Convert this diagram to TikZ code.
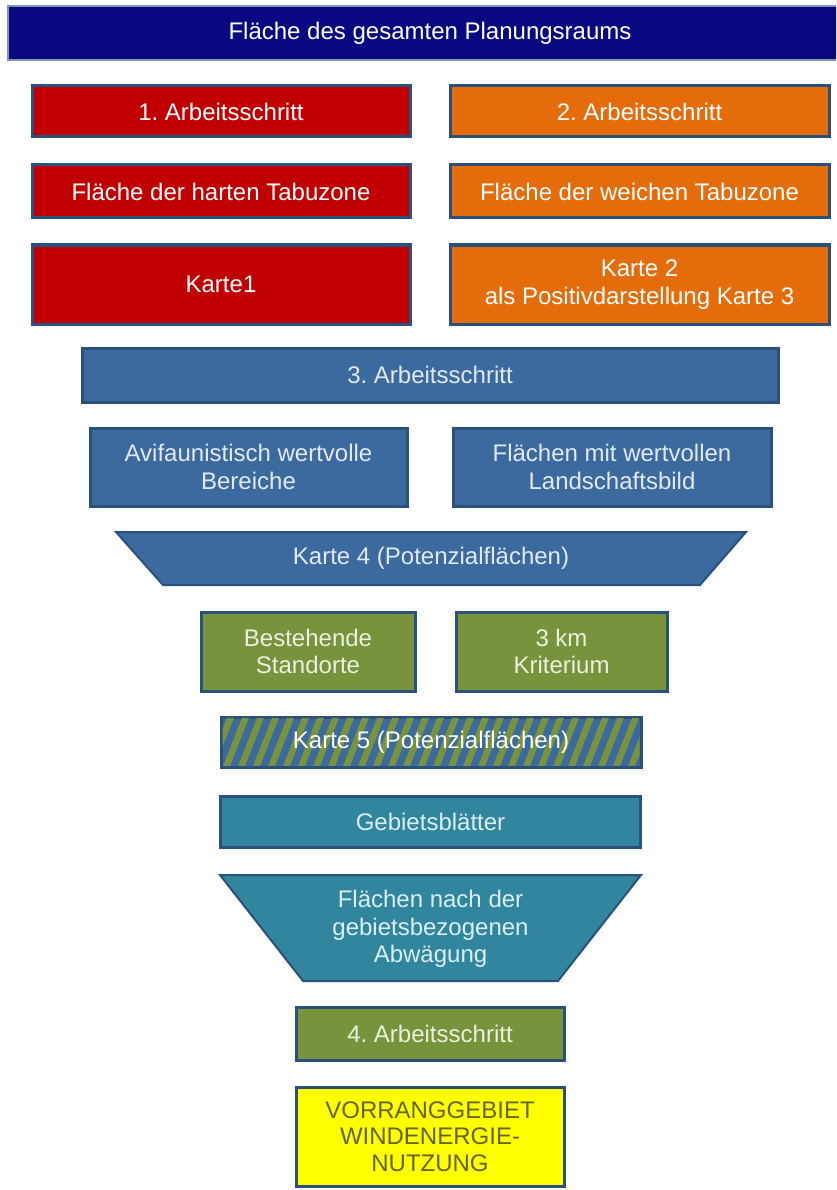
\documentclass[tikz,border=0pt]{standalone}
\usepackage{fontspec}
\setmainfont{Liberation Sans}
\frenchspacing
\definecolor{navyc}{RGB}{8,8,128}
\definecolor{redc}{RGB}{192,0,0}
\definecolor{orangec}{RGB}{228,108,10}
\definecolor{bluec}{RGB}{60,106,158}
\definecolor{greenc}{RGB}{119,147,60}
\definecolor{tealc}{RGB}{49,133,156}
\definecolor{yellowc}{RGB}{255,255,0}
\definecolor{edgec}{RGB}{42,80,126}
\definecolor{topedge}{RGB}{130,150,180}
\definecolor{bluetxt}{RGB}{225,233,245}
\definecolor{greentxt}{RGB}{235,241,222}
\definecolor{tealtxt}{RGB}{218,238,243}
\definecolor{yellowtxt}{RGB}{100,100,30}
\begin{document}
\begin{tikzpicture}[x=1pt,y=-1pt,
  pbox/.style={draw=edgec, line width=3pt, inner sep=0pt, align=center,
    font=\fontsize{24}{27.5}\selectfont},
  trap/.style={fill=#1, draw=edgec, line width=2pt, line join=miter},
  lbl/.style={align=center, inner sep=0pt, font=\fontsize{24}{27.5}\selectfont},
  stripe/.style={draw=greenc, line width=6.5pt}]
\clip (0,0) rectangle (836,1190);
\fill[white] (0,0) rectangle (836,1190);

% top bar
\node[pbox, draw=topedge, line width=1.5pt, fill=navyc, text=white,
  minimum width=844, minimum height=54] (top) at (430,33) {Fläche des gesamten Planungsraums};

% left column (red)
\node[pbox, fill=redc, text=white, minimum width=378, minimum height=51] (s1) at (221,111.5) {1. Arbeitsschritt};
\node[pbox, fill=redc, text=white, minimum width=378, minimum height=53] (hart) at (221,191.5) {Fläche der harten Tabuzone};
\node[pbox, fill=redc, text=white, minimum width=378, minimum height=79] (k1) at (221,284.5) {Karte1};

% right column (orange)
\node[pbox, fill=orangec, text=white, minimum width=379, minimum height=51] (s2) at (639.5,111.5) {2. Arbeitsschritt};
\node[pbox, fill=orangec, text=white, minimum width=379, minimum height=53] (weich) at (639.5,191.5) {Fläche der weichen Tabuzone};
\node[pbox, fill=orangec, text=white, minimum width=379, minimum height=79] (k2) at (639.5,284.5) {Karte 2\\als Positivdarstellung Karte 3};

% step 3
\node[pbox, fill=bluec, text=bluetxt, minimum width=696, minimum height=54] (s3) at (430,375) {3. Arbeitsschritt};
\node[pbox, fill=bluec, text=bluetxt, minimum width=317, minimum height=78] (avi) at (248.5,467) {Avifaunistisch wertvolle\\Bereiche};
\node[pbox, fill=bluec, text=bluetxt, minimum width=318, minimum height=78] (land) at (612,467) {Flächen mit wertvollen\\Landschaftsbild};

% Karte 4 trapezoid
\path[trap=bluec] (116,532) -- (746,532) -- (700,585) -- (163,585) -- cycle;
\node[lbl, text=bluetxt] (k4) at (431,558.5) {Karte 4 (Potenzialflächen)};

% green boxes
\node[pbox, fill=greenc, text=greentxt, minimum width=214, minimum height=79] (best) at (308,651.5) {Bestehende\\Standorte};
\node[pbox, fill=greenc, text=greentxt, minimum width=211, minimum height=79] (km) at (561.5,651.5) {3 km\\Kriterium};

% Karte 5 hatched
\node[pbox, fill=bluec, minimum width=420, minimum height=50] (k5box) at (431,742) {};
\begin{scope}
  \clip (222.5,718.5) rectangle (639.5,765.5);
  \foreach \i in {-3,...,30}
    \draw[stripe] ({210+\i*15},770) -- ({232+\i*15},714);
\end{scope}
\node[lbl, text=white] (k5) at (431,742) {Karte 5 (Potenzialflächen)};

% Gebietsblaetter
\node[pbox, fill=tealc, text=tealtxt, minimum width=420, minimum height=51] (geb) at (430.5,821.5) {Gebietsblätter};

% trapezoid 2
\path[trap=tealc] (220,875) -- (641,875) -- (558,981) -- (303,981) -- cycle;
\node[lbl, text=tealtxt] (abw) at (430.5,929) {Flächen nach der\\gebietsbezogenen\\Abwägung};

% step 4
\node[pbox, fill=greenc, text=greentxt, minimum width=268, minimum height=53] (s4) at (430,1033.5) {4. Arbeitsschritt};

% result
\node[pbox, fill=yellowc, text=yellowtxt, minimum width=268, minimum height=99,
  font=\fontsize{24}{26.5}\selectfont] (vorr) at (430,1136.5) {VORRANGGEBIET\\WINDENERGIE-\\NUTZUNG};
\end{tikzpicture}
\end{document}
